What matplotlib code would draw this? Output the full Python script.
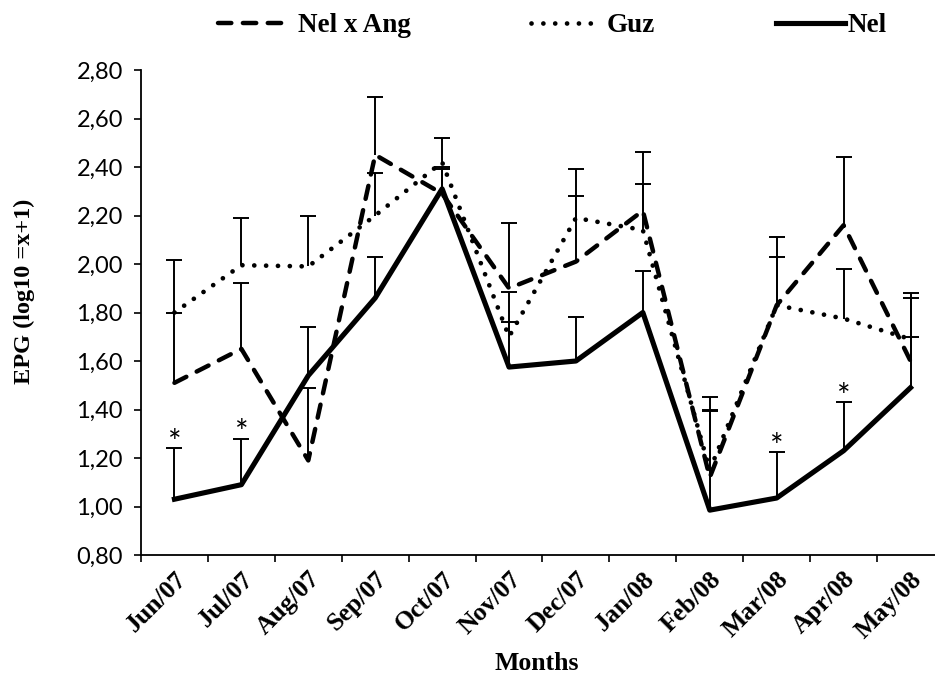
import numpy as np
import matplotlib
matplotlib.use('Agg')
import matplotlib.pyplot as plt

months = ['Jun/07', 'Jul/07', 'Aug/07', 'Sep/07', 'Oct/07', 'Nov/07',
          'Dec/07', 'Jan/08', 'Feb/08', 'Mar/08', 'Apr/08', 'May/08']

nel_x_ang = [1.51, 1.65, 1.19, 2.45, 2.29, 1.90, 2.01, 2.22, 1.12, 1.83, 2.16, 1.60]
nel_x_ang_err = [0.29, 0.27, 0.30, 0.24, 0.10, 0.27, 0.27, 0.24, 0.33, 0.28, 0.28, 0.28]

guz = [1.80, 1.995, 1.99, 2.20, 2.42, 1.70, 2.19, 2.14, 1.15, 1.83, 1.775, 1.69]
guz_err = [0.215, 0.195, 0.21, 0.175, 0.10, 0.06, 0.20, 0.19, 0.25, 0.20, 0.205, 0.01]

nel = [1.03, 1.09, 1.54, 1.86, 2.31, 1.575, 1.60, 1.80, 0.985, 1.035, 1.23, 1.49]
nel_err = [0.21, 0.19, 0.20, 0.17, 0.09, 0.31, 0.18, 0.17, 0.41, 0.19, 0.20, 0.37]

# months where Nel differs (asterisk)
signif = ['Jun/07', 'Jul/07', 'Mar/08', 'Apr/08']

serif = 'Liberation Serif'
sans = 'Lato'

x = np.arange(len(months))

fig = plt.figure(figsize=(9.35, 6.77), dpi=100)
ax = fig.add_axes([0.1508, 0.1802, 0.8588, 0.7164])

# upper error bars only
for vals, err in [(nel_x_ang, nel_x_ang_err), (guz, guz_err), (nel, nel_err)]:
    top = np.array(vals) + np.array(err)
    ax.vlines(x, vals, top, color='black', lw=1.4, zorder=2)
    ax.plot(x, top, ls='none', marker='_', ms=12, mew=1.4, color='black', zorder=2)

l1, = ax.plot(x, nel_x_ang, color='black', lw=3.2, dashes=(3.0, 2.6),
              dash_capstyle='round', label='Nel x Ang', zorder=3)
l2, = ax.plot(x, guz, color='black', lw=3.4, dashes=(0.01, 2.5),
              dash_capstyle='round', label='Guz', zorder=3)
l3, = ax.plot(x, nel, color='black', lw=3.7, label='Nel', zorder=3)

for i, m in enumerate(months):
    if m in signif:
        ax.annotate('*', (x[i], nel[i] + nel_err[i]), xytext=(0, -3.5),
                    textcoords='offset points', ha='center', va='baseline',
                    fontsize=23, family=sans)

ax.set_xlim(-0.5, 11.5)
ax.set_ylim(0.8, 2.8)
yt = np.arange(0.8, 2.81, 0.2)
ax.set_yticks(yt)
ax.set_yticklabels([('%.2f' % v).replace('.', ',') for v in yt],
                   fontfamily=sans, fontsize=17)

ax.set_xticks(x)
ax.set_xticklabels(months, rotation=45, ha='right', rotation_mode='anchor',
                   fontfamily=serif, fontweight='bold', fontsize=18.5)
ax.set_xticks(np.arange(-0.5, 12, 1), minor=True)
ax.tick_params(axis='x', which='major', length=0, pad=9)
ax.tick_params(axis='x', which='minor', length=5, width=1.2, direction='out')
ax.tick_params(axis='y', length=5, width=1.2, direction='out', pad=8)

for s in ['top', 'right']:
    ax.spines[s].set_visible(False)
for s in ['left', 'bottom']:
    ax.spines[s].set_linewidth(1.3)

fig.text(24 / 935, 1 - 291 / 677, 'EPG (log10 =x+1)', rotation=90,
         ha='center', va='center', family=serif, weight='bold', fontsize=17.5)
fig.text(537 / 935, 1 - 664 / 677, 'Months', ha='center', va='center',
         family=serif, weight='bold', fontsize=18.5)

# legend entries sit at uneven spots along the top
leg_font = {'family': serif, 'weight': 'bold', 'size': 19.5}
for h, x0, hl, pad in [(l1, 218, 2.5, 0.45), (l2, 531, 2.2, 0.6), (l3, 776, 2.55, 0.1)]:
    fig.legend(handles=[h], loc='center left', bbox_to_anchor=(x0 / 935, 1 - 26 / 677),
               frameon=False, prop=leg_font, borderpad=0, borderaxespad=0,
               handlelength=hl, handletextpad=pad)

plt.savefig('out.png', dpi=100)
